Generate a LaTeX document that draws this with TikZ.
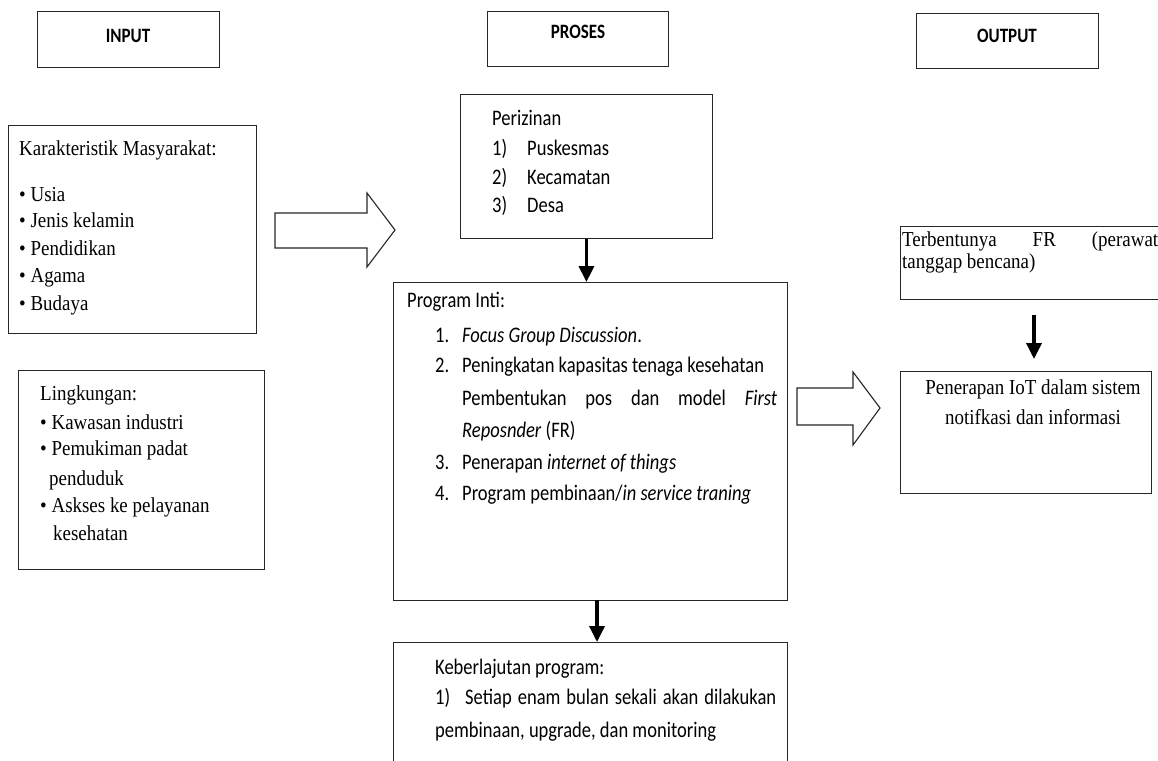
\documentclass[tikz,border=0pt]{standalone}
\usepackage{fontspec}
\setmainfont{Liberation Serif}[FakeStretch=0.89]
\newfontfamily\calfont{Carlito}[FakeStretch=0.835]
\usetikzlibrary{arrows.meta}
\tikzset{
  box/.style={draw=black!85, line width=0.9pt, inner sep=0pt, anchor=north west},
  ttxt/.style={anchor=base west, inner sep=0pt, font=\fontsize{21.3}{25}\selectfont},
  ctxt/.style={anchor=base west, inner sep=0pt, font=\calfont\fontsize{22.2}{26}\selectfont},
  htxt/.style={anchor=base, inner sep=0pt, font=\calfont\bfseries\fontsize{20.4}{24}\selectfont},
  blk/.style={line width=3.5pt, -{Triangle[length=16pt,width=15pt]}},
  hollow/.style={draw=black!85, line width=1.1pt, fill=white, line join=miter}
}
\begin{document}
\begin{tikzpicture}[x=1pt,y=-1pt]
\useasboundingbox (0,0) rectangle (1158,760);
% header boxes
\node[box, minimum width=182pt, minimum height=56pt] (inb) at (37,11) {};
\node[box, minimum width=181pt, minimum height=55pt] (prb) at (487,11) {};
\node[box, minimum width=182pt, minimum height=55pt] (outb) at (916,13) {};
\node[htxt] (inl) at (128,42) {INPUT};
\node[htxt] (prl) at (578,39) {PROSES};
\node[htxt] (outl) at (1007,42) {OUTPUT};
% input boxes
\node[box, minimum width=248pt, minimum height=208pt] (kar) at (8,125) {};
\node[ttxt] (k0) at (19,155) {Karakteristik Masyarakat:};
\node[ttxt] (k1) at (19,201) {• Usia};
\node[ttxt] (k2) at (19,227) {• Jenis kelamin};
\node[ttxt] (k3) at (19,255) {• Pendidikan};
\node[ttxt] (k4) at (19,282) {• Agama};
\node[ttxt] (k5) at (19,310) {• Budaya};
\node[box, minimum width=246pt, minimum height=199pt] (lin) at (18,370) {};
\node[ttxt] (l0) at (40,400) {Lingkungan:};
\node[ttxt] (l1) at (40,429) {• Kawasan industri};
\node[ttxt] (l2) at (40,455) {• Pemukiman padat};
\node[ttxt] (l3) at (49,485) {penduduk};
\node[ttxt] (l4) at (40,512) {• Askses ke pelayanan};
\node[ttxt] (l5) at (53,540) {kesehatan};
% hollow arrows
\draw[hollow] (275,213) -- (367,213) -- (367,193) -- (395,230) -- (367,267) -- (367,248) -- (275,248) -- cycle;
\draw[hollow] (797,388) -- (853,388) -- (853,372) -- (880,408) -- (853,445) -- (853,425) -- (797,425) -- cycle;
% process boxes
\node[box, minimum width=252pt, minimum height=144pt] (per) at (460,94) {};
\node[ctxt] (p0) at (492,125) {Perizinan};
\node[ctxt] (p1n) at (492,155) {1)};
\node[ctxt] (p1) at (527,155) {Puskesmas};
\node[ctxt] (p2n) at (492,184) {2)};
\node[ctxt] (p2) at (527,184) {Kecamatan};
\node[ctxt] (p3n) at (492,212) {3)};
\node[ctxt] (p3) at (527,212) {Desa};
\node[box, minimum width=394pt, minimum height=318pt] (inti) at (393,282) {};
\node[ctxt] (i0) at (407,307) {Program Inti:};
\node[ctxt] (i1n) at (435,342) {1.};
\node[ctxt] (i1) at (462,342) {\textit{Focus Group Discussion}.};
\node[ctxt] (i2n) at (435,372) {2.};
\node[ctxt] (i2) at (462,372) {Peningkatan kapasitas tenaga kesehatan};
\node[ctxt] (i2b) at (462,405) {\hbox to 315pt{Pembentukan\hfill pos\hfill dan\hfill model\hfill \textit{First}}};
\node[ctxt] (i2c) at (462,437) {\textit{Reposnder} (FR)};
\node[ctxt] (i3n) at (435,469) {3.};
\node[ctxt] (i3) at (462,469) {Penerapan \textit{internet of things}};
\node[ctxt] (i4n) at (435,500) {4.};
\node[ctxt] (i4) at (462,500) {Program pembinaan/\textit{in service traning}};
\node[box, minimum width=394pt, minimum height=140pt] (keb) at (393,642) {};
\node[ctxt] (b0) at (435,674) {Keberlajutan program:};
\node[ctxt] (b1) at (435,704) {\hbox to 341pt{1)\hspace{15pt}Setiap\hfill enam\hfill bulan\hfill sekali\hfill akan\hfill dilakukan}};
\node[ctxt] (b2) at (435,737) {pembinaan, upgrade, dan monitoring};
\draw[blk] (per.south) -- (per.south |- inti.north);
\coordinate (a2s) at (597,600);
\coordinate (a2e) at (597,642);
\draw[blk] (a2s) -- (a2e);
% output boxes
\node[box, minimum width=265pt, minimum height=73pt] (terb) at (900,226) {};
\node[ttxt] (t1) at (902,246) {\hbox to 256pt{Terbentunya\hfill FR\hfill (perawat}};
\node[ttxt] (t2) at (902,268) {tanggap bencana)};
\node[box, minimum width=251pt, minimum height=122pt] (pen) at (900,371) {};
\node[ttxt, anchor=base] (n1) at (1033,394) {Penerapan IoT dalam sistem};
\node[ttxt, anchor=base] (n2) at (1033,424) {notifkasi dan informasi};
\coordinate (a3s) at (1034,315);
\coordinate (a3e) at (1034,359);
\draw[blk] (a3s) -- (a3e);
\end{tikzpicture}
\end{document}
